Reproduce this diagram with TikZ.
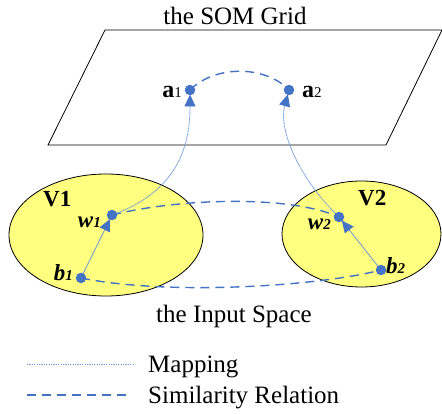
\documentclass[tikz,border=0pt]{standalone}
\usepackage{fontspec}
\setmainfont{Liberation Serif}
\usetikzlibrary{arrows.meta,shapes.geometric}
\definecolor{myblue}{HTML}{4472C4}
\definecolor{mapblue}{HTML}{6F9BD8}
\definecolor{myyellow}{HTML}{FFFF80}
\tikzset{
  dotnode/.style={circle,fill=myblue,inner sep=0pt,minimum size=10.5pt},
  region/.style={ellipse,draw=black,line width=0.8pt,fill=myyellow,inner sep=0pt},
  simline/.style={myblue,line width=1.4pt,dash pattern=on 9pt off 6pt},
  mapline/.style={mapblue,line width=0.8pt,dash pattern=on 1pt off 0.5pt},
  solidarrow/.style={mapblue,line width=0.8pt},
  tip/.style={-{Triangle[length=12pt,width=11pt,myblue]},shorten >=4.5pt},
  bigtext/.style={font=\fontsize{25}{25}\selectfont,inner sep=0pt},
  lbl/.style={inner sep=0pt}
}
\newcommand{\bigA}[1]{{\fontsize{24}{24}\selectfont\textbf{a}}{\fontsize{15}{15}\selectfont #1}}
\newcommand{\bigW}[1]{{\fontsize{23}{23}\selectfont\textbf{\textit{w}}}{\fontsize{15}{15}\selectfont\textbf{\textit{#1}}}}
\newcommand{\bigB}[1]{{\fontsize{23}{23}\selectfont\textbf{\textit{b}}}{\fontsize{15}{15}\selectfont\textbf{\textit{#1}}}}
\begin{document}
\begin{tikzpicture}[x=1pt,y=-1pt]
\useasboundingbox (0,0) rectangle (442,414);
% SOM grid
\draw[line width=0.8pt] (105,30) -- (442,30) -- (386,145) -- (48,145) -- cycle;
\node[bigtext,anchor=base] (title) at (235,25) {the SOM Grid};
% regions
\node[region,minimum width=194pt,minimum height=122pt] (V1) at (106,235) {};
\node[region,minimum width=159pt,minimum height=106pt] (V2) at (361.5,234) {};
\node[lbl,anchor=base west,font=\fontsize{23}{23}\selectfont\bfseries] (V1l) at (43,207) {V1};
\node[lbl,anchor=base west,font=\fontsize{23}{23}\selectfont\bfseries] (V2l) at (358,206) {V2};
\node[bigtext,anchor=base] (input) at (234,322) {the Input Space};
% points
\coordinate (a1) at (190,90);
\coordinate (a2) at (289,90);
\coordinate (w1) at (112,215);
\coordinate (w2) at (339,217);
\coordinate (b1) at (81,278);
\coordinate (b2) at (381,270);
% similarity
\draw[simline] (a1) .. controls (215,65) and (265,65) .. (a2);
\draw[simline] (w1) .. controls (180,198) and (290,195) .. (w2);
\draw[simline] (b1) .. controls (170,296) and (320,286) .. (b2);
% mappings
\draw[mapline,tip] (w1) .. controls (182,190) and (190,140) .. (a1);
\draw[mapline,tip] (w2) .. controls (300,180) and (278,130) .. (a2);
\draw[solidarrow,tip] (b1) -- (w1);
\draw[solidarrow,tip] (b2) -- (w2);
% dots
\node[dotnode] (da1) at (a1) {};
\node[dotnode] (da2) at (a2) {};
\node[dotnode] (dw1) at (w1) {};
\node[dotnode] (dw2) at (w2) {};
\node[dotnode] (db1) at (b1) {};
\node[dotnode] (db2) at (b2) {};
% labels
\node[lbl,anchor=base east] (la1) at (182,98) {\bigA{1}};
\node[lbl,anchor=base west] (la2) at (302,98) {\bigA{2}};
\node[lbl,anchor=base east] (lw1) at (101,228) {\bigW{1}};
\node[lbl,anchor=base east] (lw2) at (331,230) {\bigW{2}};
\node[lbl,anchor=base east] (lb1) at (73,281) {\bigB{1}};
\node[lbl,anchor=base west] (lb2) at (386,274) {\bigB{2}};
% legend
\coordinate (m1) at (27,364);
\coordinate (m2) at (135,364);
\coordinate (s1) at (27,395);
\coordinate (s2) at (130,395);
\draw[mapblue,line width=1pt,dash pattern=on 1.2pt off 1.2pt] (m1) -- (m2);
\draw[myblue,line width=1.4pt,dash pattern=on 9pt off 6pt] (s1) -- (s2);
\node[bigtext,anchor=base west] (lm) at (148,372) {Mapping};
\node[bigtext,anchor=base west] (ls) at (148,403) {Similarity Relation};
\end{tikzpicture}
\end{document}
